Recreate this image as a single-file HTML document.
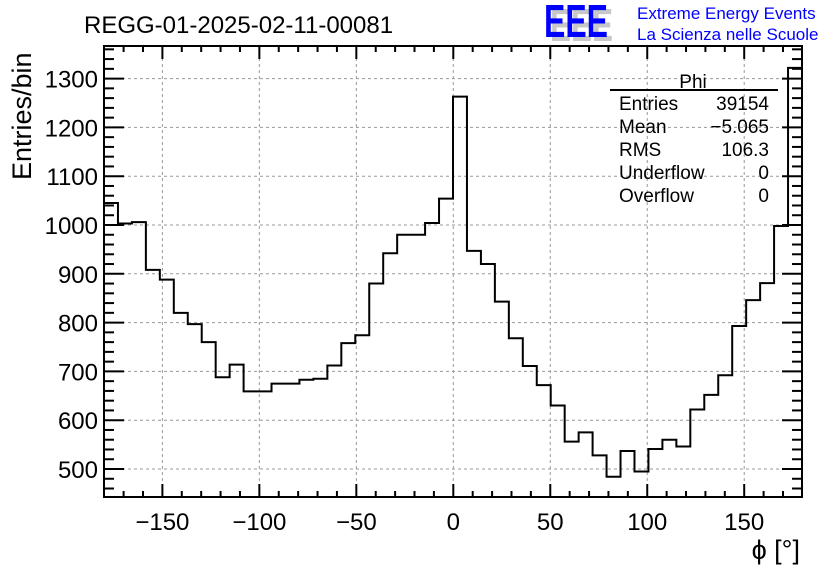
<!DOCTYPE html>
<html><head><meta charset="utf-8"><style>body{margin:0;background:#fff}svg{display:block}</style></head>
<body>
<svg width="836" height="572" xmlns="http://www.w3.org/2000/svg" font-family="Liberation Sans, sans-serif">
<rect width="836" height="572" fill="#fff"/>
<g id="grid" stroke="#999" stroke-width="1" stroke-dasharray="3,3" fill="none"></g>
<path id="hist" fill="none" stroke="#000" stroke-width="2"/>
<g id="axes" stroke="#000" stroke-width="2" fill="none"></g>
<rect x="104" y="46" width="698" height="451" fill="none" stroke="#000" stroke-width="2"/>
<g id="labels" font-size="24" fill="#000"></g>
<text x="84" y="33" font-size="24">REGG-01-2025-02-11-00081</text>
<text transform="translate(31,180) rotate(-90)" font-size="27">Entries/bin</text>
<text x="800" y="559" font-size="27" text-anchor="end">ϕ [°]</text>
<text x="550" y="41" font-size="46" font-weight="bold" fill="#c8c8c8" textLength="63" lengthAdjust="spacingAndGlyphs">EEE</text>
<text x="544" y="37" font-size="46" font-weight="bold" fill="#0000ff" textLength="64" lengthAdjust="spacingAndGlyphs">EEE</text>
<text x="637" y="19" font-size="17" fill="#0000ff">Extreme Energy Events</text>
<text x="637" y="40" font-size="17" fill="#0000ff">La Scienza nelle Scuole</text>
<g font-size="19" fill="#000">
<text x="693" y="88" text-anchor="middle">Phi</text>
<line x1="610" y1="90" x2="778" y2="90" stroke="#000" stroke-width="2"/>
<text x="619" y="110">Entries</text><text x="769" y="110" text-anchor="end">39154</text>
<text x="619" y="133">Mean</text><text x="769" y="133" text-anchor="end">−5.065</text>
<text x="619" y="156">RMS</text><text x="769" y="156" text-anchor="end">106.3</text>
<text x="619" y="179">Underflow</text><text x="769" y="179" text-anchor="end">0</text>
<text x="619" y="202">Overflow</text><text x="769" y="202" text-anchor="end">0</text>
</g>
<script>
const X=v=>453.3+v*1.9394, Y=v=>469-(v-500)*0.488;
const ns="http://www.w3.org/2000/svg";
function el(p,t,a,txt){const e=document.createElementNS(ns,t);for(const k in a)e.setAttribute(k,a[k]);if(txt!=null)e.textContent=txt;document.getElementById(p).appendChild(e);}
for(let v=-150;v<=150;v+=50)el('grid','line',{x1:X(v),y1:46,x2:X(v),y2:497});
for(let v=500;v<=1300;v+=100)el('grid','line',{x1:104,y1:Y(v),x2:802,y2:Y(v)});
for(let v=-170;v<=170;v+=10){const L=v%50==0?13:6;
 el('axes','line',{x1:X(v),y1:497,x2:X(v),y2:497-L});el('axes','line',{x1:X(v),y1:46,x2:X(v),y2:46+L});
 if(v%50==0)el('labels','text',{x:X(v),y:530,'text-anchor':'middle'},(v<0?'−':'')+Math.abs(v));}
for(let v=460;v<=1360;v+=20){const L=v%100==0?20:10;
 el('axes','line',{x1:104,y1:Y(v),x2:104+L,y2:Y(v)});el('axes','line',{x1:802,y1:Y(v),x2:802-L,y2:Y(v)});
 if(v%100==0)el('labels','text',{x:98,y:Y(v)+9,'text-anchor':'end'},v);}
const d=[1045,1003,1006,908,888,820,797,760,688,714,659,659,675,675,683,685,712,758,774,880,942,980,980,1004,1054,1263,947,920,843,768,711,672,630,556,575,528,484,537,495,541,560,546,622,652,692,793,846,881,998,1322];
let p='M104,497';
d.forEach((v,i)=>{const x0=104+i*13.96,x1=x0+13.96;p+=` L${x0},${Y(v)} L${x1},${Y(v)}`;});
p+=' L802,497';
document.getElementById('hist').setAttribute('d',p);
</script>
</svg>
</body></html>
